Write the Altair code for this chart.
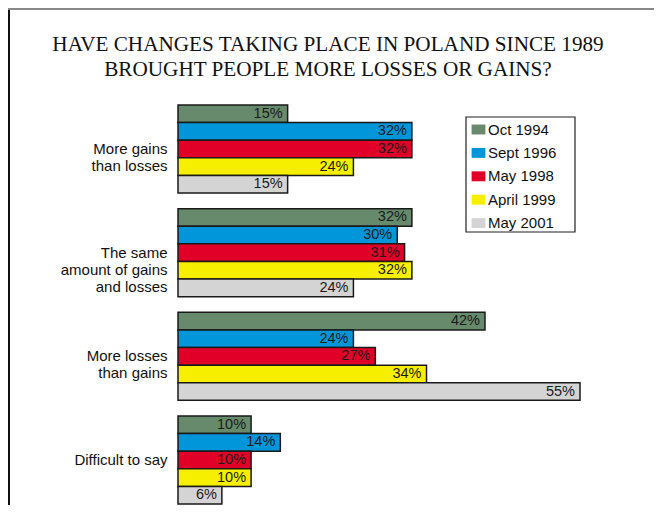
import altair as alt
import pandas as pd

title_lines = ["HAVE CHANGES TAKING PLACE IN POLAND SINCE 1989",
               "BROUGHT PEOPLE MORE LOSSES OR GAINS?"]
categories = ["More gains|than losses",
              "The same|amount of gains|and losses",
              "More losses|than gains",
              "Difficult to say"]
series = ["Oct 1994", "Sept 1996", "May 1998", "April 1999", "May 2001"]
colors = ["#668a6b", "#0096d9", "#e00028", "#f7ef00", "#d4d4d4"]
values = {
    "Oct 1994":   [15, 32, 42, 10],
    "Sept 1996":  [32, 30, 24, 14],
    "May 1998":   [32, 31, 27, 10],
    "April 1999": [24, 32, 34, 10],
    "May 2001":   [15, 24, 55, 6],
}

rows = []
for s in series:
    for c, v in zip(categories, values[s]):
        rows.append({"category": c, "series": s, "value": v, "label": f"{v}%"})
df = pd.DataFrame(rows)

y_enc = alt.Y("category:N", sort=categories,
              scale=alt.Scale(paddingInner=0.15, paddingOuter=0),
              axis=alt.Axis(title=None, domain=False, ticks=False,
                            labelExpr="split(datum.label, '|')",
                            labelFont="Liberation Sans", labelFontSize=15,
                            labelColor="#111", labelPadding=11,
                            labelLineHeight=17, labelLimit=200))
yoff = alt.YOffset("series:N", sort=series)
x_enc = alt.X("value:Q", scale=alt.Scale(domain=[0, 55], nice=False, zero=True),
              axis=None)

frame_df = pd.DataFrame({"k": [0]})
legend_box = alt.Chart(frame_df).mark_rect(fill="white", stroke="#222", strokeWidth=1.2).encode(
    x=alt.value(288), x2=alt.value(397), y=alt.value(12), y2=alt.value(127))

bars = alt.Chart(df).mark_bar(stroke="#1a1a1a", strokeWidth=1.5, cornerRadius=0).encode(
    y=y_enc, yOffset=yoff, x=x_enc,
    color=alt.Color("series:N", sort=series,
                    scale=alt.Scale(domain=series, range=colors),
                    legend=alt.Legend(title=None, orient="none", legendX=288, legendY=12,
                                      padding=5,
                                      labelFont="Liberation Sans", labelFontSize=15,
                                      labelColor="#111", labelOffset=2,
                                      symbolType="M-1,-0.72L1,-0.72L1,0.72L-1,0.72Z",
                                      symbolSize=190, symbolStrokeWidth=0,
                                      symbolOpacity=1, rowPadding=7.4)),
)

labels = alt.Chart(df).mark_text(align="right", baseline="middle", dx=-5,
                                 font="Liberation Sans", fontSize=14.5, color="#1a1a1a").encode(
    y=alt.Y("category:N", sort=categories), yOffset=yoff, x="value:Q", text="label:N")

left_line = alt.Chart(frame_df).mark_rule(color="#111", strokeWidth=2).encode(
    x=alt.value(-169), y=alt.value(-97), y2=alt.value(400))
top_line = alt.Chart(frame_df).mark_rule(color="#888", strokeWidth=2).encode(
    x=alt.value(-170), x2=alt.value(476), y=alt.value(-96))
title = alt.Chart(frame_df).mark_text(
    text=title_lines, font="Liberation Serif", fontSize=21.2, color="#111",
    align="center", baseline="middle", lineHeight=24.5).encode(
    x=alt.value(150), y=alt.value(-60))

chart = alt.layer(legend_box, bars, labels, left_line, top_line, title).properties(
    width=402, height=399,
    padding={"left": 170, "top": 97, "right": 74, "bottom": 1},
    autosize=alt.AutoSizeParams(type="none"),
).configure_view(stroke=None)

chart.save("out.html", embed_options={"renderer": "svg", "actions": False})
